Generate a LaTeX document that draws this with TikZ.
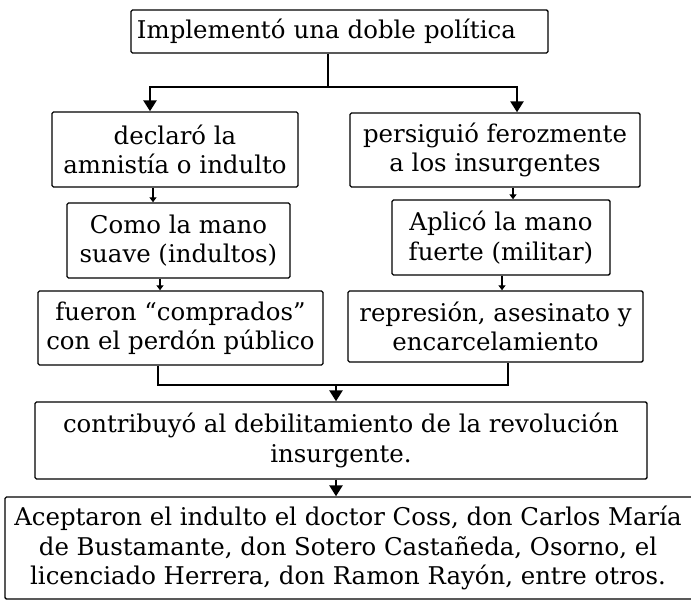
\documentclass[tikz,border=0pt]{standalone}
\usepackage{fontspec}
\setmainfont{DejaVu Serif}
\usetikzlibrary{arrows.meta}
\begin{document}
\begin{tikzpicture}[x=1bp,y=-1bp,
  box/.style={draw,line width=1.4bp,rounded corners=1.5bp,inner sep=0pt,align=center,
    font=\fontsize{24.5}{29.5}\selectfont},
  line/.style={line width=2.6bp},
  arr/.style={line width=2.6bp,-{Triangle[width=13bp,length=11bp]}},
  sarr/.style={line width=2.6bp,-{Triangle[width=7bp,length=5bp]}}]
\useasboundingbox (0,0) rectangle (691,600);
\node[box,minimum width=417bp,minimum height=43bp,inner xsep=6bp,text width=405bp,align=left] (top) at (339.5,31.5) {Implementó una doble política};
\node[box,minimum width=246bp,minimum height=75bp] (A) at (175,149.5) {declaró la\\amnistía o indulto};
\node[box,minimum width=290bp,minimum height=74bp] (B) at (495,150) {persiguió ferozmente\\a los insurgentes};
\node[box,minimum width=223bp,minimum height=75bp] (C) at (178.5,240.5) {Como la mano\\suave (indultos)};
\node[box,minimum width=218bp,minimum height=75bp] (D) at (501,237.5) {Aplicó la mano\\fuerte (militar)};
\node[box,minimum width=285bp,minimum height=74bp] (E) at (180.5,328) {fueron “comprados”\\con el perdón público};
\node[box,minimum width=295bp,minimum height=71bp] (F) at (495.5,326.5) {represión, asesinato y\\encarcelamiento};
\node[box,minimum width=612bp,minimum height=77bp] (G) at (341,440.5) {contribuyó al debilitamiento de la revolución\\insurgente.};
\node[box,minimum width=700bp,minimum height=102bp] (H) at (355,548) {\hspace*{-14bp}Aceptaron el indulto el doctor Coss, don Carlos María\\\hspace*{-14bp}de Bustamante, don Sotero Castañeda, Osorno, el\\\hspace*{-14bp}licenciado Herrera, don Ramon Rayón, entre otros.};
\coordinate (j1) at (328,87);
\coordinate (xa) at (150,0);
\coordinate (xb) at (517,0);
\coordinate (xac) at (153,0);
\coordinate (xce) at (160,0);
\coordinate (xbd) at (513,0);
\coordinate (xdf) at (502,0);
\coordinate (xl) at (158,0);
\coordinate (xr) at (508,0);
\coordinate (j2) at (336,385);
\draw[line] (top.south -| j1) -- (j1);
\draw[arr] (j1) -| (A.north -| xa);
\draw[arr] (j1) -| (B.north -| xb);
\draw[sarr] (A.south -| xac) -- (C.north -| xac);
\draw[sarr] (C.south -| xce) -- (E.north -| xce);
\draw[sarr] (B.south -| xbd) -- (D.north -| xbd);
\draw[sarr] (D.south -| xdf) -- (F.north -| xdf);
\draw[line] (E.south -| xl) -- (xl |- j2) -- (xr |- j2) -- (F.south -| xr);
\draw[arr] (j2) -- (G.north -| j2);
\draw[arr] (G.south -| j2) -- (H.north -| j2);
\end{tikzpicture}
\end{document}
